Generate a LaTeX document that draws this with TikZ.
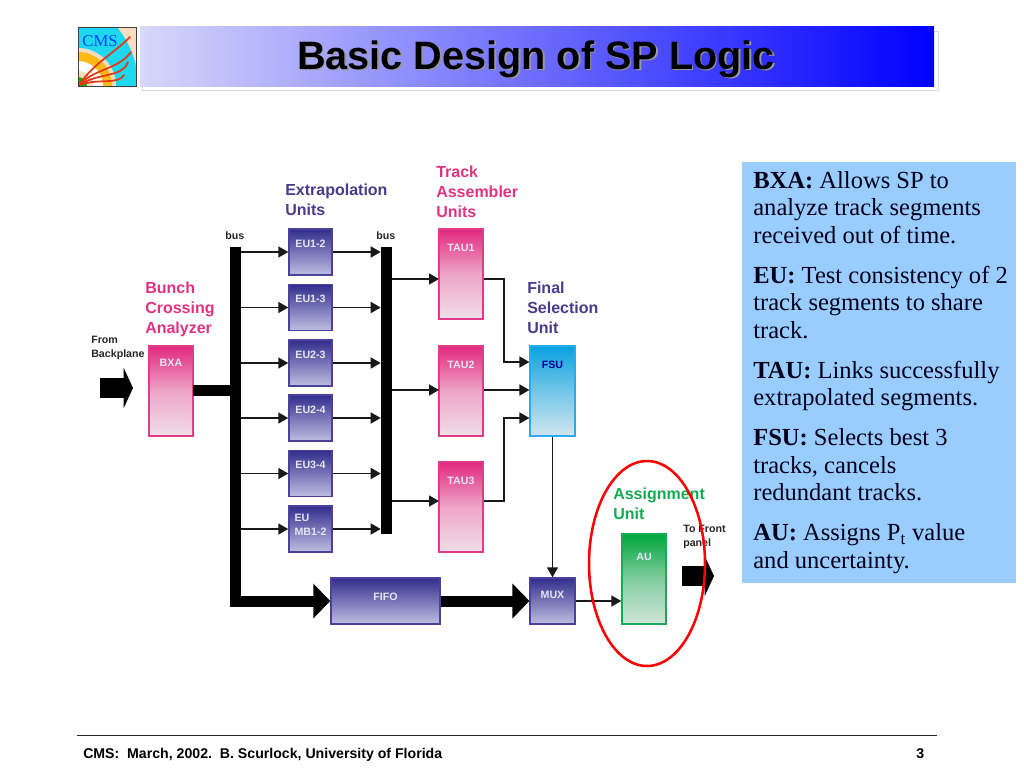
\documentclass[tikz,border=0pt]{standalone}
\usepackage{fontspec}
\setmainfont{Liberation Serif}
\setsansfont{Liberation Sans}
\usetikzlibrary{arrows.meta,shapes.geometric}

\definecolor{blueedge}{RGB}{75,65,155}
\definecolor{bluetop}{RGB}{50,45,140}
\definecolor{bluelow}{RGB}{190,190,225}
\definecolor{pinkedge}{RGB}{225,60,140}
\definecolor{pinktop}{RGB}{225,40,125}
\definecolor{pinkmid}{RGB}{238,165,200}
\definecolor{pinklow}{RGB}{240,222,232}
\definecolor{cyanedge}{RGB}{40,170,235}
\definecolor{cyantop}{RGB}{10,160,225}
\definecolor{cyanmid}{RGB}{115,198,232}
\definecolor{cyanlow}{RGB}{208,230,240}
\definecolor{greenedge}{RGB}{25,170,85}
\definecolor{greentop}{RGB}{0,165,60}
\definecolor{greenmid}{RGB}{130,205,160}
\definecolor{greenlow}{RGB}{208,230,218}
\definecolor{boxtext}{RGB}{228,228,242}
\definecolor{headpink}{RGB}{225,50,130}
\definecolor{headblue}{RGB}{70,60,140}
\definecolor{headgreen}{RGB}{20,170,80}
\definecolor{panelblue}{RGB}{153,204,255}
\definecolor{barlight}{RGB}{215,215,250}
\definecolor{logocyan}{RGB}{30,215,240}
\definecolor{logopeach}{RGB}{255,220,190}
\definecolor{logoorange}{RGB}{255,185,20}
\definecolor{logored}{RGB}{230,55,20}

\tikzset{
    blockbase/.style={rectangle, inner sep=0pt, line width=1.1pt, text=boxtext,
        font=\sffamily\bfseries\fontsize{8}{10.5}\selectfont},
    eubox/.style={blockbase, draw=blueedge, top color=bluetop, bottom color=bluelow,
        minimum width=32.25pt, text height=13.5pt, text depth=21pt},
    taubox/.style={blockbase, draw=pinkedge, top color=pinktop, bottom color=pinklow, middle color=pinkmid,
        minimum width=33pt, text height=16.5pt, text depth=51pt},
    heading/.style={inner sep=0pt, anchor=base west, align=left,
        font=\sffamily\bfseries\fontsize{12}{15}\selectfont},
    small/.style={inner sep=0pt, anchor=base west, align=left, text=black!85,
        font=\sffamily\bfseries\fontsize{8}{10.4}\selectfont},
    busbar/.style={rectangle, fill=black, inner sep=0pt, minimum width=8.25pt},
    link/.style={line width=1.3pt, black!90, -{Triangle[length=7.5pt,width=8.25pt]}},
    fatlink/.style={line width=8.25pt, -{Triangle[length=12.75pt,width=25.5pt]}},
    portarrow/.style={line width=15pt, -{Triangle[length=7pt,width=30pt]}}
}

\begin{document}
\begin{tikzpicture}[x=0.75pt, y=-0.75pt]
    \useasboundingbox (0,0) rectangle (1024,768);

    \node[rectangle, draw=black!15, line width=0.6pt, fill=white, inner sep=0pt, minimum width=597pt, minimum height=44.25pt] (barshadow) at (540,60.5) {};
    \node[rectangle, left color=barlight, right color=blue, inner sep=0pt, minimum width=595.5pt, minimum height=45pt] (bar) at (537,56) {};
    \node[font=\sffamily\bfseries\fontsize{29.7}{32}\selectfont, text=black!40, inner sep=0pt, anchor=base] (titleshadow) at (537.5,70.5) {Basic Design of SP Logic};
    \node[font=\sffamily\bfseries\fontsize{29.7}{32}\selectfont, inner sep=0pt, anchor=base] (title) at (536,69) {Basic Design of SP Logic};

    \begin{scope}
        \clip (78,27) rectangle (136,86);
        \fill[logocyan] (78,27) rectangle (136,86);
        \fill[logopeach] (117,27) .. controls (128,40) and (134,55) .. (136,66) -- (136,27) -- cycle;
        \fill[logopeach] (78,86) circle (38);
        \fill[logoorange] (78,86) circle (34);
        \fill[white] (78,86) circle (25);
        \fill[logopeach] (78,86) circle (15);
        \fill[green!70!black] (78,86) circle (9);
        \draw[logored, line width=1.3pt, line cap=round] (79,85) .. controls (95,62) and (112,55) .. (130,37);
        \draw[logored, line width=1.3pt, line cap=round] (79,85) .. controls (95,68) and (118,70) .. (131,52);
        \draw[logored, line width=1.3pt, line cap=round] (79,85) .. controls (100,72) and (122,78) .. (128,62);
        \draw[logored, line width=1.3pt, line cap=round] (79,85) .. controls (100,78) and (118,85) .. (124,75);
    \end{scope}
    \node[font=\fontsize{12.5}{14}\selectfont, text=blue!75!cyan, inner sep=0pt] (cms) at (100,41) {CMS};
    \node[rectangle, draw=black!75, line width=0.7pt, inner sep=0pt, minimum width=43.5pt, minimum height=44.25pt] (logo) at (107,56.5) {};

    \node[rectangle, fill=panelblue, inner sep=0pt, minimum width=205pt, minimum height=315.75pt] (panel) at (879,372.5) {};
    \node[inner sep=0pt, anchor=west, font=\fontsize{18.4}{20.6}\selectfont, align=left, text=black!90!blue] (paneltext) at ([xshift=8.25pt]panel.west) {%
        \textbf{BXA:} Allows SP to\\analyze track segments\\received out of time.\\[9.4pt]
        \textbf{EU:} Test consistency of 2\\track segments to share\\track.\\[9.4pt]
        \textbf{TAU:} Links successfully\\extrapolated segments.\\[9.4pt]
        \textbf{FSU:} Selects best 3\\tracks, cancels\\redundant tracks.\\[9.4pt]
        \textbf{AU:} Assigns P\textsubscript{t} value\\and uncertainty.};

    \node[small] (fromlabel) at (91,357) {From\\Backplane};
    \node[heading, text=headpink] (bxalabel) at (145,333) {Bunch\\Crossing\\Analyzer};
    \node[heading, text=headblue] (eulabel) at (285,215) {Extrapolation\\Units};
    \node[heading, text=headpink] (taulabel) at (436,217) {Track\\Assembler\\Units};
    \node[heading, text=headblue] (fsulabel) at (527,333) {Final\\Selection\\Unit};
    \node[heading, text=headgreen] (aulabel) at (613,519) {Assignment\\Unit};
    \node[small] (frontlabel) at (683,546) {To Front\\panel};
    \node[small] (busalabel) at (225,239) {bus};
    \node[small] (busblabel) at (376,239) {bus};

    \node[busbar, minimum height=269.6pt] (busa) at (235.5,426.5) {};
    \node[busbar, minimum height=215.25pt] (busb) at (386.5,390.5) {};

    \node[taubox, text height=15pt, text depth=52.5pt] (bxa) at (171,391) {BXA};
    \node[eubox] (eua) at (310.5,252) {EU1-2};
    \node[eubox] (eub) at (310.5,307.5) {EU1-3};
    \node[eubox] (euc) at (310.5,363) {EU2-3};
    \node[eubox] (eud) at (310.5,418) {EU2-4};
    \node[eubox] (eue) at (310.5,473.5) {EU3-4};
    \node[eubox, align=left, text height=21.75pt, text depth=12.75pt] (euf) at (310.5,529) {EU\\MB1-2};
    \node[taubox] (taua) at (461,274) {TAU1};
    \node[taubox] (taub) at (461,391) {TAU2};
    \node[taubox] (tauc) at (461,507) {TAU3};
    \node[blockbase, draw=cyanedge, top color=cyantop, bottom color=cyanlow, middle color=cyanmid, text=blue!60!black, minimum width=33.5pt, text height=16.5pt, text depth=51pt] (fsu) at (552.5,391) {FSU};
    \node[eubox, minimum width=81.75pt, text height=16.5pt, text depth=18pt] (fifo) at (385.5,601) {FIFO};
    \node[eubox, minimum width=33.5pt, text height=15pt, text depth=19.5pt] (mux) at (552.5,601) {MUX};
    \node[blockbase, draw=greenedge, top color=greentop, bottom color=greenlow, middle color=greenmid, minimum width=33pt, text height=19.5pt, text depth=48pt] (au) at (644,579) {AU};

    \coordinate (bxaout) at (193,390);
    \coordinate (tapin) at (439,279);
    \coordinate (tbpin) at (439,390);
    \coordinate (tcpin) at (439,501);
    \coordinate (bendtop) at (504,362);
    \coordinate (bendlow) at (504,418);
    \coordinate (backstart) at (100,388);
    \coordinate (backend) at (133,388);
    \coordinate (frontstart) at (682,576);
    \coordinate (frontend) at (714,576);

    \draw[portarrow] (backstart) -- (backend);
    \draw[line width=8.25pt] (bxaout) -- (busa.center |- bxaout);
    \draw[fatlink] (busa.west |- fifo) -- (fifo.west);
    \draw[fatlink] (fifo) -- (mux);

    \draw[link] (busa.east |- eua) -- (eua);
    \draw[link] (busa.east |- eub) -- (eub);
    \draw[link] (busa.east |- euc) -- (euc);
    \draw[link] (busa.east |- eud) -- (eud);
    \draw[link] (busa.east |- eue) -- (eue);
    \draw[link] (busa.east |- euf) -- (euf);
    \draw[link] (eua) -- (busb.west |- eua);
    \draw[link] (eub) -- (busb.west |- eub);
    \draw[link] (euc) -- (busb.west |- euc);
    \draw[link] (eud) -- (busb.west |- eud);
    \draw[link] (eue) -- (busb.west |- eue);
    \draw[link] (euf) -- (busb.west |- euf);

    \draw[link] (busb.east |- tapin) -- (tapin);
    \draw[link] (busb.east |- tbpin) -- (tbpin);
    \draw[link] (busb.east |- tcpin) -- (tcpin);
    \draw[link] (tapin -| taua.east) -| (bendtop) -- (fsu.west |- bendtop);
    \draw[link] (tbpin -| taub.east) -- (fsu.west |- tbpin);
    \draw[link] (tcpin -| tauc.east) -| (bendlow) -- (fsu.west |- bendlow);
    \draw[link] (fsu) -- (mux);
    \draw[link] (mux) -- (au.west |- mux);
    \draw[portarrow] (frontstart) -- (frontend);

    \node[draw=red, ellipse, line width=1.9pt, inner sep=0pt, minimum width=87pt, minimum height=153.75pt] (ring) at (647,563.5) {};

    \node[rectangle, fill=black!85, inner sep=0pt, minimum width=645pt, minimum height=1.1pt] (rule) at (507,735.5) {};
    \node[inner sep=0pt, anchor=base west, font=\sffamily\bfseries\fontsize{10.6}{12}\selectfont] (footer) at (83,758) {CMS:\ \ March, 2002.\ \ B. Scurlock, University of Florida};
    \node[inner sep=0pt, anchor=base west, font=\sffamily\bfseries\fontsize{10.6}{12}\selectfont] (pagenum) at (916,758) {3};
\end{tikzpicture}
\end{document}
